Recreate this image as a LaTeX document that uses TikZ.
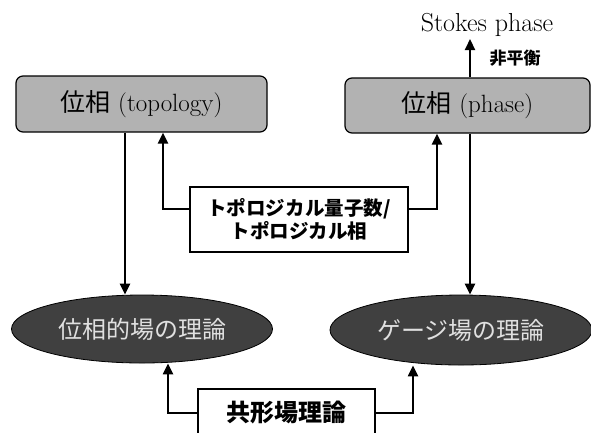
\documentclass[tikz,border=0pt]{standalone}
\usepackage{fontspec}
\newfontfamily\jp{Noto Sans CJK JP}
\usetikzlibrary{arrows.meta,shapes.geometric}
\definecolor{boxgray}{gray}{0.70}
\definecolor{ellgray}{gray}{0.25}
\definecolor{elltext}{gray}{0.88}
\begin{document}
\begin{tikzpicture}[x=1pt,y=-1pt,
  topbox/.style={draw=black, line width=1.2pt, fill=boxgray, rounded corners=7pt, inner sep=0pt},
  ellnode/.style={ellipse, draw=black, line width=0.8pt, fill=ellgray, inner sep=0pt, text=elltext},
  plainbox/.style={draw=black, line width=1.3pt, fill=white, inner sep=0pt, align=center},
  conn/.style={line width=2.2pt, -{Triangle[length=11pt,width=10pt]}}]
\path[use as bounding box, clip] (0,0) rectangle (591,432);
% top boxes
\node[topbox, minimum width=251pt, minimum height=56pt] (topo) at (141.5,104)
  {\fontsize{25}{28}\selectfont{\jp 位相} (topology)};
\node[topbox, minimum width=245pt, minimum height=55pt] (phase) at (467.5,105.5)
  {\fontsize{25}{28}\selectfont{\jp 位相} (phase)};
% stokes
\node[inner sep=0pt, font=\fontsize{26}{28}\selectfont] (stokes) at (487,25) {Stokes phase};
\node[inner sep=0pt, font=\fontsize{17}{19}\selectfont\jp\bfseries] (neq) at (515,58) {非平衡};
% ellipses
\node[ellnode, minimum width=261pt, minimum height=68pt, font=\fontsize{24}{26}\selectfont\jp] (tft) at (142,329)
  {位相的場の理論};
\node[ellnode, minimum width=262pt, minimum height=70pt, font=\fontsize{24}{26}\selectfont\jp] (gauge) at (461,330)
  {ゲージ場の理論};
% middle box
\node[plainbox, minimum width=218pt, minimum height=65pt, font=\fontsize{19.5}{23}\selectfont\jp\bfseries] (mid) at (299,219.5)
  {トポロジカル量子数/\\トポロジカル相};
% bottom box
\node[plainbox, minimum width=177pt, minimum height=62pt, font=\fontsize{24}{26}\selectfont\jp\bfseries, text depth=18pt] (cft) at (286.5,420)
  {共形場理論};
% coordinates
\coordinate (stokesarrowtop) at (470,39);
\coordinate (midL) at (163,209);
\coordinate (midR) at (437,209);
\coordinate (cftL) at (168,413);
\coordinate (cftR) at (413,413);
% connectors
\draw[conn] (phase.north -| stokesarrowtop) -- (stokesarrowtop);
\draw[conn] (topo.south -| 125,0) -- (tft.north -| 125,0);
\draw[conn] (phase.south -| 470,0) -- (gauge.north -| 470,0);
\draw[conn] (mid.west |- midL) -- (midL) -- (topo.south -| midL);
\draw[conn] (mid.east |- midR) -- (midR) -- (phase.south -| midR);
\draw[conn] (cft.west |- cftL) -- (cftL) -- (tft.south -| cftL);
\draw[conn] (cft.east |- cftR) -- (cftR) -- (gauge.south -| cftR);
\end{tikzpicture}
\end{document}
